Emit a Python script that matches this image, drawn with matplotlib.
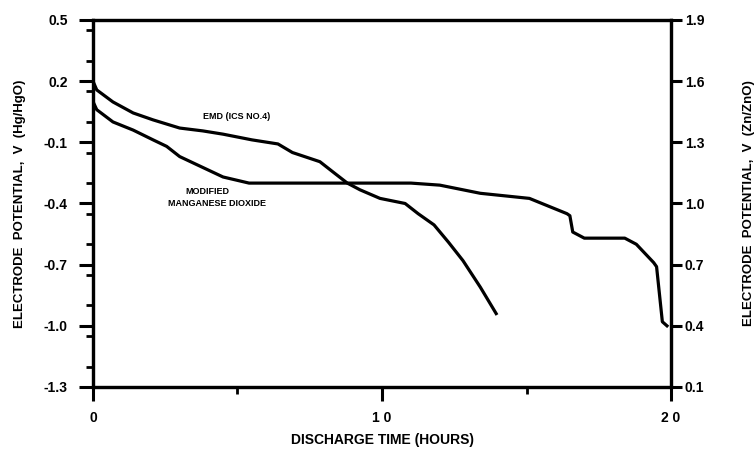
import numpy as np
import matplotlib.pyplot as plt
from matplotlib.ticker import MultipleLocator

plt.rcParams['font.family'] = ['Liberation Sans', 'DejaVu Sans']
plt.rcParams['font.weight'] = 'bold'

# EMD (ICS No.4) discharge curve
emd_t = [0, 0.13, 0.69, 1.39, 2.08, 3.0, 3.8, 4.5, 5.5, 6.4, 6.9, 7.85, 8.3, 8.8,
         9.24, 9.93, 10.8, 11.25, 11.8, 12.3, 12.8, 13.4, 13.95]
emd_v = [0.2, 0.157, 0.098, 0.044, 0.01, -0.03, -0.044, -0.06, -0.088, -0.108, -0.15,
         -0.195, -0.245, -0.30, -0.333, -0.375, -0.40, -0.45, -0.505, -0.59, -0.68,
         -0.81, -0.94]

# modified manganese dioxide discharge curve
mod_t = [0, 0.13, 0.69, 1.39, 2.08, 2.55, 3.0, 3.6, 4.5, 5.4, 6.5, 9.0, 11.0, 12.0,
         13.4, 15.1, 16.4, 16.5, 16.6, 17.0, 17.5, 18.4, 18.8, 19.4, 19.5, 19.7, 19.86]
mod_v = [0.1, 0.06, 0.0, -0.04, -0.088, -0.12, -0.17, -0.21, -0.27, -0.30, -0.30,
         -0.30, -0.30, -0.31, -0.35, -0.375, -0.45, -0.46, -0.54, -0.57, -0.57, -0.57,
         -0.60, -0.69, -0.71, -0.98, -1.0]

left_ticks = [0.5, 0.2, -0.1, -0.4, -0.7, -1.0, -1.3]
right_ticks = [1.9, 1.6, 1.3, 1.0, 0.7, 0.4, 0.1]
x_ticks = [0, 10, 20]

fig = plt.figure(figsize=(7.56, 4.5), dpi=100)
ax = fig.add_axes([0.123, 0.14, 0.7646, 0.8156])

ax.plot(emd_t, emd_v, color='black', lw=2.3, solid_joinstyle='round')
ax.plot(mod_t, mod_v, color='black', lw=2.3, solid_joinstyle='round')

ax.set_xlim(0, 20)
ax.set_ylim(-1.3, 0.5)
ax.set_xticks(x_ticks)
ax.set_xticklabels(['0', '1 0', '2 0'])
ax.set_yticks(left_ticks)
ax.set_yticklabels(['0.5', '0.2', '-0.1', '-0.4', '-0.7', '-1.0', '-1.3'])
ax.xaxis.set_minor_locator(MultipleLocator(5))
ax.yaxis.set_minor_locator(MultipleLocator(0.15))

for s in ax.spines.values():
    s.set_linewidth(2.3)

ax.tick_params(axis='both', which='major', length=10, width=2.2, labelsize=10)
ax.tick_params(axis='y', which='major', pad=8)
ax.tick_params(axis='x', which='major', pad=7)
ax.tick_params(axis='both', which='minor', length=5, width=2)

ax.set_xlabel('DISCHARGE TIME (HOURS)', fontsize=10, fontweight='bold', labelpad=6)
ax.set_ylabel('ELECTRODE  POTENTIAL,  V  (Hg/HgO)', fontsize=9.5, fontweight='bold',
              labelpad=13)

ax2 = ax.twinx()
ax2.set_ylim(0.1, 1.9)
ax2.set_yticks(right_ticks)
ax2.set_yticklabels(['1.9', '1.6', '1.3', '1.0', '0.7', '0.4', '0.1'])
ax2.tick_params(axis='y', length=8, width=2.2, labelsize=10, pad=2)
for s in ax2.spines.values():
    s.set_linewidth(2.3)
ax2.set_ylabel('ELECTRODE  POTENTIAL,  V  (Zn/ZnO)', fontsize=9.5, fontweight='bold',
               labelpad=28)

ax.text(3.8, 0.025, 'EMD (ICS NO.4)', fontsize=6.5, fontweight='bold', va='center')
ax.text(3.95, -0.343, 'MODIFIED', fontsize=6.5, fontweight='bold', ha='center',
        va='center')
ax.text(4.3, -0.40, 'MANGANESE DIOXIDE', fontsize=6.5, fontweight='bold', ha='center',
        va='center')

plt.savefig('out.png', dpi=100)
